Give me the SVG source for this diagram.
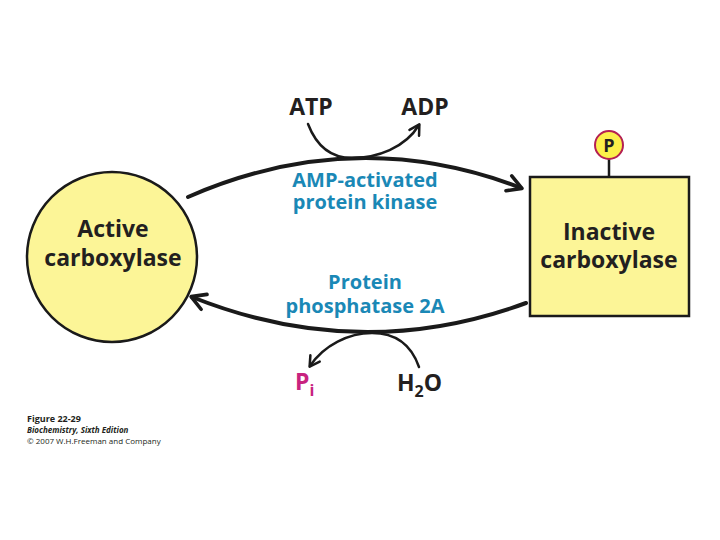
<svg xmlns="http://www.w3.org/2000/svg" width="720" height="540" viewBox="0 0 720 540">
<style>
.node{fill:#fcf597;stroke:#1a1a1a;stroke-width:2.5}
.lbl{font-family:"Open Sans","Liberation Sans",sans-serif;font-weight:bold;font-size:23px;fill:#231f20;text-anchor:middle}
.enz{font-family:"Open Sans","Liberation Sans",sans-serif;font-weight:bold;font-size:20px;fill:#1a88b6;text-anchor:middle}
.mol{font-family:"Open Sans","Liberation Sans",sans-serif;font-weight:bold;font-size:23px;fill:#231f20;text-anchor:middle}
.big{fill:none;stroke:#1a1a1a;stroke-width:4;stroke-linecap:round}
.small{fill:none;stroke:#1a1a1a;stroke-width:2.5;stroke-linecap:round}
.cap{font-family:"Open Sans","Liberation Sans",sans-serif;font-size:8px;fill:#231f20}
</style>
<defs>
<marker id="ah" viewBox="0 0 10 10" refX="9" refY="5" markerWidth="5" markerHeight="5" orient="auto" markerUnits="userSpaceOnUse">
<path d="M1,1 L9,5 L1,9" fill="none" stroke="#1a1a1a" stroke-width="1"/>
</marker>
<marker id="ahb" viewBox="0 0 10 10" refX="8" refY="5" markerWidth="20" markerHeight="20" orient="auto" markerUnits="userSpaceOnUse">
<path d="M1.5,1 L8.5,5 L1.5,9" fill="none" stroke="#1a1a1a" stroke-width="1.8" stroke-linecap="round" stroke-linejoin="round"/>
</marker>
<marker id="ahs" viewBox="0 0 10 10" refX="8" refY="5" markerWidth="14" markerHeight="14" orient="auto" markerUnits="userSpaceOnUse">
<path d="M1.5,1 L8.5,5 L1.5,9" fill="none" stroke="#1a1a1a" stroke-width="1.8" stroke-linecap="round" stroke-linejoin="round"/>
</marker>
</defs>
<rect width="720" height="540" fill="#ffffff"/>
<g id="connectors">
<path class="big" d="M188,197 Q355,124 521,188" marker-end="url(#ahb)"/>
<path class="big" d="M526,303 Q360,364 192,297" marker-end="url(#ahb)"/>
<path class="small" d="M308,124 C318,150 335,158 352,158 C377,158 405,148 419,125" marker-end="url(#ahs)"/>
<path class="small" d="M419,367 C410,341 392,333 372,333 C349,333 324,345 310,366" marker-end="url(#ahs)"/>
</g>
<g id="active">
<circle class="node" cx="112" cy="257" r="85"/>
<text class="lbl" x="113" y="237">Active</text>
<text class="lbl" x="113" y="266">carboxylase</text>
</g>
<g id="inactive">
<line x1="609" y1="158" x2="609" y2="177" stroke="#1a1a1a" stroke-width="2.5"/>
<rect class="node" x="530" y="177" width="159" height="139"/>
<text class="lbl" x="609" y="240">Inactive</text>
<text class="lbl" x="609" y="268">carboxylase</text>
<circle cx="609" cy="145" r="14" fill="#fcf04a" stroke="#b42052" stroke-width="2"/>
<text x="609" y="152" style="font-family:'Open Sans','Liberation Sans',sans-serif;font-weight:bold;font-size:18px;fill:#231f20;text-anchor:middle">P</text>
</g>
<g id="kinase">
<text class="enz" x="365" y="187">AMP-activated</text>
<text class="enz" x="365" y="209">protein kinase</text>
</g>
<g id="phosphatase">
<text class="enz" x="365" y="289">Protein</text>
<text class="enz" x="365" y="313">phosphatase 2A</text>
</g>
<g id="atp"><text class="mol" x="311" y="115">ATP</text></g>
<g id="adp"><text class="mol" x="425" y="115">ADP</text></g>
<g id="pi"><text class="mol" x="304" y="390" style="fill:#c8237f;text-anchor:start" x1="0"><tspan x="295">P</tspan><tspan dy="6" font-size="16">i</tspan></text></g>
<g id="h2o"><text class="mol" x="397" y="391" style="text-anchor:start">H<tspan dy="6" font-size="16">2</tspan><tspan dy="-6">O</tspan></text></g>
<g id="caption">
<text class="cap" x="27" y="422" style="font-weight:bold;font-size:9px">Figure 22-29</text>
<text class="cap" x="27" y="433" style="font-weight:bold;font-style:italic">Biochemistry, Sixth Edition</text>
<text class="cap" x="27" y="444">© 2007 W.H.Freeman and Company</text>
</g>
</svg>
